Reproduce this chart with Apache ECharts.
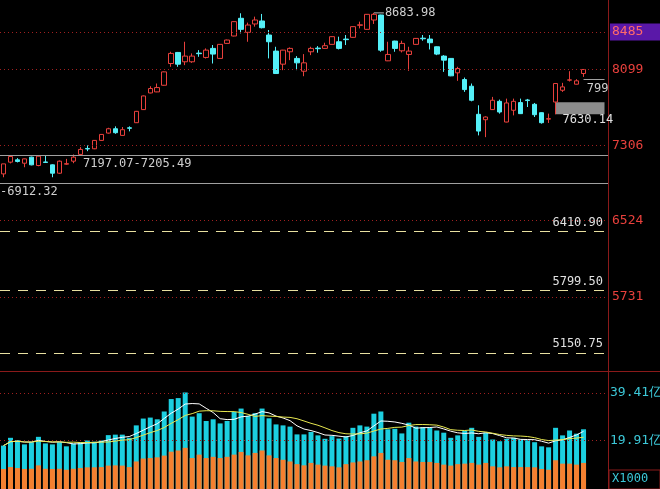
<!DOCTYPE html>
<html><head><meta charset="utf-8">
<script src="https://cdn.jsdelivr.net/npm/echarts@6/dist/echarts.min.js"></script>
<style>html,body{margin:0;padding:0;background:#000}#c{width:660px;height:489px}</style>
</head><body><div id="c"></div>
<script>
// OHLC: [open, close, low, high]
const ohlc = [
[7011,7115,6976,7115],[7133,7192,7120,7200],[7157,7140,7130,7175],[7122,7167,7080,7170],[7185,7105,7100,7190],
[7098,7195,7090,7200],[7135,7130,7125,7202],[7105,7018,6976,7110],[7018,7143,7010,7150],[7112,7117,7105,7167],
[7143,7185,7122,7213],[7213,7265,7210,7289],[7275,7270,7247,7307],[7272,7359,7268,7362],[7359,7421,7355,7425],
[7435,7480,7430,7490],[7480,7439,7428,7505],[7411,7470,7408,7498],[7490,7485,7453,7505],[7543,7661,7540,7665],
[7679,7821,7675,7825],[7852,7898,7848,7922],[7863,7908,7860,7950],[7932,8071,7928,8075],[8158,8263,8124,8280],
[8273,8151,8124,8278],[8176,8235,8141,8384],[8176,8235,8165,8263],[8266,8260,8228,8297],[8221,8297,8210,8315],
[8315,8256,8158,8350],[8211,8357,8207,8360],[8367,8402,8363,8406],[8444,8593,8440,8597],[8628,8513,8471,8680],
[8482,8558,8384,8583],[8569,8610,8541,8645],[8600,8530,8523,8673],[8454,8384,8211,8506],[8287,8054,8050,8332],
[8151,8297,8089,8300],[8280,8315,8193,8325],[8211,8165,8089,8235],[8078,8165,8026,8256],[8280,8315,8245,8332],
[8318,8312,8270,8339],[8315,8343,8312,8374],[8357,8437,8353,8440],[8384,8315,8304,8437],[8412,8406,8350,8454],
[8430,8541,8425,8545],[8555,8560,8523,8593],[8513,8669,8510,8672],[8610,8669,8569,8684],[8662,8297,8280,8665],
[8186,8252,8183,8384],[8391,8315,8280,8395],[8290,8367,8273,8395],[8252,8287,8082,8332],[8357,8419,8353,8423],
[8421,8415,8395,8454],[8412,8374,8304,8454],[8332,8256,8245,8336],[8235,8193,8071,8245],[8211,8030,8026,8215],
[8061,8106,7978,8124],[7991,7887,7863,8012],[7922,7776,7765,7950],[7630,7456,7411,7724],[7574,7602,7393,7609],
[7679,7776,7675,7811],[7765,7654,7637,7783],[7550,7748,7547,7793],[7672,7765,7619,7793],[7752,7637,7633,7793],
[7779,7773,7706,7790],[7734,7626,7602,7748],[7647,7543,7533,7650],[7580,7585,7540,7637],[7758,7950,7630,7955],
[7880,7915,7863,7957],[7985,7988,7971,8078],[7943,7978,7940,7995],[8054,8096,8019,8099]
];
// volume (亿): total and orange part
const volTotal = [17.8,21.0,20.0,18.3,19.2,21.4,18.7,18.3,19.2,17.5,18.7,19.2,19.9,19.4,19.9,22.1,22.3,22.3,21.0,26.1,
28.9,29.3,28.6,31.8,36.9,37.3,39.6,29.7,31.1,27.9,28.6,26.9,27.9,31.6,33.0,30.0,31.1,33.0,29.0,26.5,
26.1,25.6,22.4,22.4,23.4,22.0,20.6,21.7,20.7,21.7,25.1,26.1,25.6,30.9,31.8,24.5,24.7,22.8,27.2,25.6,
25.4,25.1,24.0,23.1,21.0,22.0,23.8,25.1,21.4,23.1,20.3,19.6,20.6,21.0,20.3,20.0,19.2,17.5,17.1,25.1,
22.0,24.0,22.7,24.5];
const volPart = [8.2,9.0,8.6,8.2,8.3,9.7,8.3,8.2,8.3,7.9,8.3,8.6,8.9,8.9,9.0,9.6,9.7,9.6,9.0,11.3,
12.5,12.7,13.0,13.7,15.3,15.8,16.9,12.7,14.1,12.7,13.2,12.7,13.2,14.1,15.2,13.8,14.8,15.8,13.8,12.7,
12.0,11.3,10.2,9.7,10.7,10.0,9.6,9.3,8.9,10.2,10.9,11.3,11.8,13.4,14.8,12.0,11.8,11.1,12.7,11.3,
11.1,11.1,10.7,10.0,9.6,10.2,10.4,10.7,10.0,10.7,9.3,8.9,9.3,9.0,9.0,9.0,8.9,8.2,7.9,11.8,
10.4,10.4,10.0,10.7];
const priceMarks = [8485, 8099, 7306, 6524, 5731];
const volMarks = [39.41, 19.91];
const dashLevels = [6410.90, 5799.50, 5150.75];
const grayLevels = [[7201.28, '7197.07-7205.49'], [6912.32, '-6912.32']];
const slots = 87;
const cats = Array.from({length: slots}, (_, i) => 'D' + (i + 1));
function ma(arr, n){ return arr.map((_, i) => { const s = arr.slice(Math.max(0, i - n + 1), i + 1); return +(s.reduce((a, b) => a + b, 0) / s.length).toFixed(2); }); }
const font = 'DejaVu Sans Mono';
const red = '#e8403c', cyan = '#54f0f8';
const mlData = [];
priceMarks.forEach(v => mlData.push({yAxis: v, lineStyle:{color:'#a02020', type:[1,3], width:1},
  label:{show:true, position:'end', formatter: String(v), color: v===8485?'#ff6a6a':'#e8403c', fontFamily:font, fontSize:13,
   backgroundColor: v===8485?'#5a18a8':'transparent', padding: v===8485?[2,22,2,2]:[0,0,0,2], distance: 2}}));
dashLevels.forEach(v => mlData.push({yAxis: v, lineStyle:{color:'#e8e0a0', type:[10,8], width:1},
  label:{show:true, position:'insideEndTop', formatter: v.toFixed(2), color:'#e0e0e0', fontFamily:font, fontSize:12, distance:[5,3]}}));
grayLevels.forEach(([v, t], i) => mlData.push({yAxis: v, lineStyle:{color:'#a0a0a0', type:'solid', width:1},
  label:{show:true, position:'insideStartBottom', formatter: t, color:'#d0d0d0', fontFamily:font, fontSize:12, distance:[i===0?83:0,2]}}));
mlData.push([{coord:[83, 7990], lineStyle:{color:'#a0a0a0', type:'solid', width:1},
  label:{show:true, position:'insideEndBottom', formatter:'799', color:'#d0d0d0', fontFamily:font, fontSize:12, distance:[-4,3]}},{coord:[86, 7990]}]);
const chart = echarts.init(document.getElementById('c'));
chart.setOption({
  backgroundColor:'#000',
  animation:false,
  grid:[{left:0, right:52, top:0, height:370}, {left:0, right:52, top:372, bottom:0}],
  xAxis:[{type:'category', data:cats, gridIndex:0, show:false, boundaryGap:true},
         {type:'category', data:cats, gridIndex:1, show:false, boundaryGap:true}],
  yAxis:[{type:'value', gridIndex:0, min:4973, max:8818, show:false, splitLine:{show:false}},
         {type:'value', gridIndex:1, min:0, max:48, show:false, splitLine:{show:false}}],
  graphic:[
    {type:'line', shape:{x1:608.5,y1:0,x2:608.5,y2:489}, style:{stroke:'#8a1a1a', lineWidth:1}},
    {type:'line', shape:{x1:0,y1:371.5,x2:660,y2:371.5}, style:{stroke:'#8a1a1a', lineWidth:1}},
    {type:'rect', shape:{x:609,y:470,width:51,height:19}, style:{fill:'#000', stroke:'#8a1a1a'}},
    {type:'text', x:612, y:473, style:{text:'X1000', fill:'#3cc8d8', font:'12px '+font}}
  ],
  series:[
    {type:'candlestick', xAxisIndex:0, yAxisIndex:0, data:ohlc, barWidth:5,
     itemStyle:{color:'#000', color0:cyan, borderColor:red, borderColor0:cyan, borderWidth:1},
     markLine:{silent:true, symbol:['none','none'], data:mlData},
     markArea:{silent:true, data:[[{coord:[79,7630.14], itemStyle:{color:'#8c8c8c'},
        label:{show:true, position:'insideBottomLeft', formatter:'7630.14', color:'#e0e0e0', fontFamily:font, fontSize:12, offset:[2,17]}},{coord:[86,7755]}]]},
     markPoint:{silent:true, data:[{coord:[53,8684], symbol:'rect', symbolSize:[10,1], symbolOffset:[5,0], itemStyle:{color:'#bbb'},
        label:{show:true, position:'right', formatter:'8683.98', color:'#d0d0d0', fontFamily:font, fontSize:12, distance:1}}]}},
    {type:'bar', xAxisIndex:1, yAxisIndex:1, data:volTotal, barWidth:5, itemStyle:{color:'#1ccfe0'},
     markLine:{silent:true, symbol:['none','none'], data: volMarks.map(v => ({yAxis:v, lineStyle:{color:'#a02020', type:[1,3], width:1},
       label:{show:true, position:'end', formatter: v + '亿', color:'#3cc8d8', fontFamily:font, fontSize:13, distance:2}}))}},
    {type:'bar', xAxisIndex:1, yAxisIndex:1, data:volPart, barWidth:5, barGap:'-100%', itemStyle:{color:'#f58030'}},
    {type:'line', xAxisIndex:1, yAxisIndex:1, data:ma(volTotal,5), symbol:'none', lineStyle:{color:'#ffffff', width:1}, z:5},
    {type:'line', xAxisIndex:1, yAxisIndex:1, data:ma(volTotal,10), symbol:'none', lineStyle:{color:'#e8e850', width:1}, z:5}
  ]
});
</script></body></html>
